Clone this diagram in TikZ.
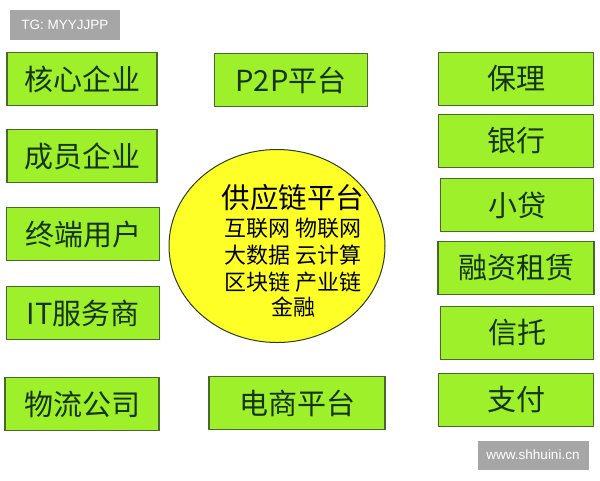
\documentclass[tikz,border=0pt]{standalone}
\usepackage{fontspec}
\setmainfont{Noto Sans CJK SC}
\newfontfamily\latinsans{Liberation Sans}
\usepackage{xcolor}
\usetikzlibrary{shapes.geometric}
\definecolor{limegreen}{RGB}{158,240,42}
\definecolor{boxline}{RGB}{72,104,48}
\definecolor{boxtext}{RGB}{22,52,18}
\definecolor{sunyellow}{RGB}{255,255,40}
\definecolor{markgray}{RGB}{166,166,166}
\tikzstyle{partybox} = [draw=boxline, fill=limegreen, line width=1.5pt,
    rectangle, minimum width=150pt, minimum height=53pt, text=boxtext,
    font=\fontsize{29}{32}\selectfont, inner sep=0pt]
\tikzstyle{markbox} = [fill=markgray, text=white, inner sep=0pt,
    font=\latinsans\fontsize{13.5}{15}\selectfont]

\begin{document}
\begin{tikzpicture}[x=1pt, y=-1pt]
\useasboundingbox (0,0) rectangle (600,480);
\fill[white] (0,0) rectangle (600,480);
% left column
\node [partybox] (core) at (82,79) {核心企业};
\node [partybox] (member) at (82,156) {成员企业};
\node [partybox, minimum width=153pt] (enduser) at (83,234) {终端用户};
\node [partybox, minimum width=153pt] (itserv) at (83,313) {IT服务商};
\node [partybox, minimum width=154pt] (logist) at (82,404) {物流公司};
% middle column
\node [partybox, minimum width=153pt] (ptp) at (291,80) {P2P平台};
\node [partybox, minimum width=176pt] (ecom) at (297,403) {电商平台};
% right column
\node [partybox, minimum width=155pt] (factor) at (516,79) {保理};
\node [partybox, minimum width=155pt] (bank) at (516,141) {银行};
\node [partybox, minimum width=153pt] (loan) at (517,205) {小贷};
\node [partybox, minimum width=156pt] (lease) at (516,268) {融资租赁};
\node [partybox, minimum width=153pt] (trust) at (517,333) {信托};
\node [partybox, minimum width=155pt] (pay) at (516,400) {支付};
% centre
\node [draw=boxline!60!black, fill=sunyellow, line width=1pt, ellipse,
    minimum width=216pt, minimum height=193pt, inner sep=0pt] (hub) at (277,246) {};
\node [text=black, align=center, inner sep=0pt,
    font=\fontsize{22}{27}\selectfont] (hubtext) at (293,251) {%
    {\fontsize{28.5}{31}\selectfont 供应链平台}\\[1pt]
    互联网 物联网\\
    大数据 云计算\\
    区块链 产业链\\[-2pt]
    金融};
% watermarks
\node [markbox, minimum width=110pt, minimum height=30pt] (tgmark) at (65,25) {TG: MYYJJPP};
\node [markbox, minimum width=111pt, minimum height=29pt] (webmark) at (533,455) {www.shhuini.cn};
\end{tikzpicture}
\end{document}
